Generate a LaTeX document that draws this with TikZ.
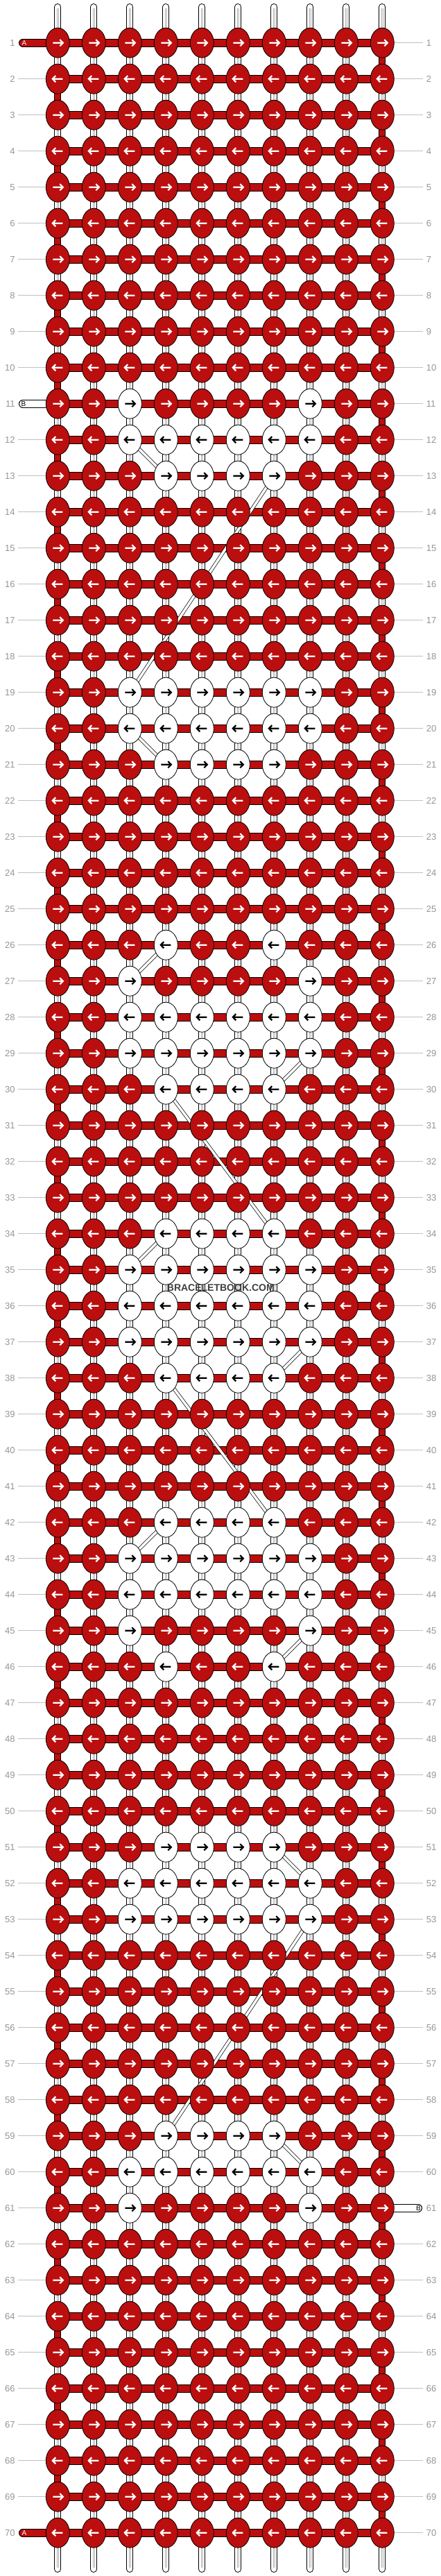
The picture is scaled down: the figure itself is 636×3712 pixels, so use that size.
\documentclass[tikz,border=0pt]{standalone}
\usepackage{fontspec}
\setmainfont{Liberation Sans}
\usetikzlibrary{shapes.geometric}
\definecolor{knotred}{RGB}{187,14,14}
\definecolor{lblgray}{RGB}{150,150,150}
\definecolor{lngray}{RGB}{192,192,192}
\definecolor{stripe}{RGB}{175,175,175}
\tikzset{
 knot/.style={ellipse, draw=black, line width=0.8pt, minimum width=34pt, minimum height=43pt, inner sep=0pt},
 bar/.style={double=knotred, double distance=10pt, line width=1pt},
 wbar/.style={double=white, double distance=10pt, line width=1pt},
 tube/.style={double=white, double distance=8pt, line width=1pt},
 redtube/.style={double=knotred, double distance=8pt, line width=1pt},
 stripeline/.style={stripe, line width=0.7pt},
 diag/.style={double=white, double distance=3.6pt, line width=0.7pt},
 arr/.style={line width=2.2pt, line join=miter},
 rowlbl/.style={text=lblgray, font=\fontsize{13}{13}\selectfont, inner sep=0pt},
 rowline/.style={lngray, line width=1pt},
 stubtext/.style={font=\fontsize{10}{10}\selectfont, inner sep=0pt}
}
\begin{document}
% white knots
\foreach \rr/\ll in {11/{3,8},12/{3,4,5,6,7,8},13/{4,5,6,7},19/{3,4,5,6,7,8},20/{3,4,5,6,7,8},21/{4,5,6,7},26/{4,7},27/{3,8},28/{3,4,5,6,7,8},29/{3,4,5,6,7,8},30/{4,5,6,7},34/{4,5,6,7},35/{3,4,5,6,7,8},36/{3,4,5,6,7,8},37/{3,4,5,6,7,8},38/{4,5,6,7},42/{4,5,6,7},43/{3,4,5,6,7,8},44/{3,4,5,6,7,8},45/{3,8},46/{4,7},51/{4,5,6,7},52/{3,4,5,6,7,8},53/{3,4,5,6,7,8},59/{4,5,6,7},60/{3,4,5,6,7,8},61/{3,8}}{%
  \foreach \cc in \ll {\expandafter\xdef\csname wk-\rr-\cc\endcsname{1}}}%
\begin{tikzpicture}[x=1pt,y=-1pt]
\fill[white] (0,0) rectangle (636,3712);
\useasboundingbox (0,0) rectangle (636,3712);
% grid coordinates
\foreach \rr in {1,...,70}{\foreach \cc in {1,...,10}{
  \coordinate (p-\rr-\cc) at ({83.3+52*(\cc-1)},{61.7+52*(\rr-1)});}}
\foreach \cc in {1,...,10}{
  \coordinate (t-\cc) at ({83.3+52*(\cc-1)},10);
  \coordinate (ts-\cc) at ({83.3+52*(\cc-1)},12);
  \coordinate (b-\cc) at ({83.3+52*(\cc-1)},3702);
  \coordinate (bs-\cc) at ({83.3+52*(\cc-1)},3700);
  \draw[tube, line cap=round] (t-\cc) -- (p-1-\cc);
  \draw[stripeline] ([xshift=-1.3pt]ts-\cc) -- ([xshift=-1.3pt]p-1-\cc);
  \draw[stripeline] ([xshift=1.3pt]ts-\cc) -- ([xshift=1.3pt]p-1-\cc);
  \draw[tube, line cap=round] (p-70-\cc) -- (b-\cc);
  \draw[stripeline] ([xshift=-1.3pt]p-70-\cc) -- ([xshift=-1.3pt]bs-\cc);
  \draw[stripeline] ([xshift=1.3pt]p-70-\cc) -- ([xshift=1.3pt]bs-\cc);
}
% vertical segments
\foreach \rr in {1,...,69}{
  \pgfmathtruncatemacro\rn{\rr+1}
  \foreach \cc in {1,...,10}{
    \def\isred{0}%
    \ifodd\rr\relax\ifnum\cc=10\relax\def\isred{1}\fi\else\ifnum\cc=1\relax\def\isred{1}\fi\fi
    \ifnum\isred=1\relax
      \draw[redtube] (p-\rr-\cc) -- (p-\rn-\cc);
    \else
      \draw[tube] (p-\rr-\cc) -- (p-\rn-\cc);
      \draw[stripeline] ([xshift=-1.3pt]p-\rr-\cc) -- ([xshift=-1.3pt]p-\rn-\cc);
      \draw[stripeline] ([xshift=1.3pt]p-\rr-\cc) -- ([xshift=1.3pt]p-\rn-\cc);
    \fi
  }}
% horizontal bars
\foreach \rr in {1,...,70}{\foreach \cc in {1,...,9}{
  \pgfmathtruncatemacro\cn{\cc+1}
  \draw[bar] (p-\rr-\cc) -- (p-\rr-\cn);}}
% row lines and labels
\foreach \rr in {1,...,70}{
  \pgfmathsetmacro\yy{61.7+52*(\rr-1)}
  \coordinate (ll-\rr) at (26,\yy);
  \coordinate (rl-\rr) at (610,\yy);
  \ifnum\rr=1\relax\else\ifnum\rr=11\relax\else\ifnum\rr=70\relax\else
    \draw[rowline] (ll-\rr) -- (p-\rr-1);\fi\fi\fi
  \ifnum\rr=61\relax\else\draw[rowline] (p-\rr-10) -- (rl-\rr);\fi
  \node[rowlbl, anchor=east] (lab-l-\rr) at (21.7,\yy) {\rr};
  \node[rowlbl, anchor=west] (lab-r-\rr) at (614.7,\yy) {\rr};
}
% string stubs
\coordinate (sa-1) at (33,61.7);
\coordinate (sa-70) at (33,3649.7);
\coordinate (sb-11) at (33,581.7);
\coordinate (sb-61) at (603,3181.7);
\draw[bar, line cap=round] (sa-1) -- (p-1-1);
\draw[bar, line cap=round] (sa-70) -- (p-70-1);
\draw[wbar, line cap=round] (sb-11) -- (p-11-1);
\draw[wbar, line cap=round] (p-61-10) -- (sb-61);
\node[stubtext, text=white] (ta-1) at (35,61.7) {A};
\node[stubtext, text=white] (ta-70) at (35,3649.7) {A};
\node[stubtext, text=black] (tb-11) at (34,581.7) {B};
\node[stubtext, text=black] (tb-61) at (603.5,3181.7) {B};
% diagonal carried strands
\foreach \ra/\ca/\rb/\cb in {12/3/13/4, 13/7/19/3, 20/3/21/4, 26/4/27/3, 29/8/30/7, 30/4/34/7, 34/4/35/3, 37/8/38/7, 38/4/42/7, 42/4/43/3, 45/8/46/7, 51/7/52/8, 53/8/59/4, 59/7/60/8}{
  \draw[diag] (p-\ra-\ca) -- (p-\rb-\cb);}
% knots
\foreach \rr in {1,...,70}{\foreach \cc in {1,...,10}{
  \ifcsname wk-\rr-\cc\endcsname\def\kf{white}\def\ka{black}\else\def\kf{knotred}\def\ka{white}\fi
  \ifodd\rr\relax\def\dr{1}\else\def\dr{-1}\fi
  \node[knot, fill=\kf] (k-\rr-\cc) at (p-\rr-\cc) {};
  \draw[arr, draw=\ka] (k-\rr-\cc.center) ++({-7*\dr},0) -- ++({14.5*\dr},0)
     ++({-4.5*\dr},-4.6) -- ++({4.5*\dr},4.6) -- ++({-4.5*\dr},4.6);
}}
\node[font=\bfseries\fontsize{14}{14}\selectfont, text=black!75, inner sep=0pt] (wm) at (318.3,1856) {BRACELETBOOK.COM};
\end{tikzpicture}
\end{document}
